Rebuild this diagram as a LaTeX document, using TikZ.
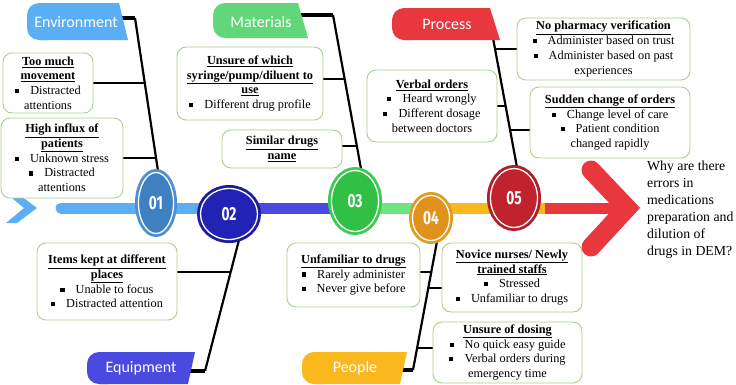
\documentclass[tikz,border=0pt]{standalone}
\usepackage{fontspec}
\setmainfont{Liberation Serif}
\newfontfamily\labfont{Carlito}
\newfontfamily\digfont{Fira Sans}
\usetikzlibrary{shapes.geometric,calc,backgrounds}
\definecolor{cEnv}{HTML}{5AAEF5}
\definecolor{cMat}{HTML}{62D67A}
\definecolor{cMatBar}{HTML}{6EE47E}
\definecolor{cProc}{HTML}{E8383D}
\definecolor{cEqu}{HTML}{4A4AE0}
\definecolor{cPeo}{HTML}{F9B91E}
\definecolor{boxgreen}{HTML}{A9D18E}
\definecolor{nAf}{HTML}{3F80C2}\definecolor{nAb}{HTML}{4E8FD0}
\definecolor{nBf}{HTML}{2222B4}\definecolor{nBb}{HTML}{1C1C9C}
\definecolor{nCf}{HTML}{30C046}\definecolor{nCb}{HTML}{3BCB50}
\definecolor{nDf}{HTML}{E0921C}\definecolor{nDb}{HTML}{E39A22}
\definecolor{nEf}{HTML}{C0222E}\definecolor{nEb}{HTML}{B01E2A}
\newcommand\sq{\rule[0.12em]{0.33em}{0.33em}\hspace{0.9em}}
\newcommand\hd[1]{\underline{\textbf{#1}}}
\newcommand\twigto[3]{\draw[twig] let \p1=#1, \p2=#2, \p3=#3 in (\p1) -- ({\x2+(\y1-\y2)*(\x3-\x2)/(\y3-\y2)},\y1);}
\begin{document}
\begin{tikzpicture}[x=1pt,y=-1pt,
  cbox/.style={draw=boxgreen, line width=0.9pt, rounded corners=9pt, fill=white, align=center,
    font=\fontsize{12.3}{14.7}\selectfont, inner sep=1pt},
  spine/.style={line width=2.2pt, black},
  knee/.style={line width=3.2pt, black},
  twig/.style={line width=1.1pt, black},
  numc/.style 2 args={ellipse, inner sep=0pt, fill=#1, draw=white, line width=1.3pt,
    preaction={draw=#2, line width=7pt}, text=white,
    font=\digfont\bfseries\fontsize{19}{19}\selectfont},
  labtxt/.style={text=white, font=\labfont\fontsize{16}{16}\selectfont, inner sep=0pt},
  bar/.style={line width=11pt}
]
\useasboundingbox (0,0) rectangle (736,384);

% numbered circles
\node[numc={nAf}{nAb}, minimum width=35pt, minimum height=61pt] (c1) at (156,203) {\scalebox{0.72}[1]{01}};
\node[numc={nBf}{nBb}, minimum width=57pt, minimum height=51pt] (c2) at (229,214) {\scalebox{0.72}[1]{02}};
\node[numc={nCf}{nCb}, minimum width=47pt, minimum height=61pt] (c3) at (355,201) {\scalebox{0.72}[1]{03}};
\node[numc={nDf}{nDb}, minimum width=37pt, minimum height=45pt] (c4) at (431,218) {\scalebox{0.72}[1]{04}};
\node[numc={nEf}{nEb}, minimum width=47pt, minimum height=59pt] (c5) at (514,198) {\scalebox{0.72}[1]{05}};

% category labels
\fill[cEnv, rounded corners=12pt] (60,3) -- (27,3) -- (27,40) -- (60,40) -- cycle;
\fill[cEnv] (40,3) -- (119,3) -- (128,40) -- (40,40) -- cycle;
\node[labtxt] (env) at (76,22) {Environment};

\fill[cMat, rounded corners=12pt] (246,3) -- (213,3) -- (213,38) -- (246,38) -- cycle;
\fill[cMat] (226,3) -- (298,3) -- (308,38) -- (226,38) -- cycle;
\node[labtxt] (mat) at (261,21.5) {Materials};

\fill[cProc, rounded corners=12pt] (425,8) -- (392,8) -- (392,40) -- (425,40) -- cycle;
\fill[cProc] (405,8) -- (490,8) -- (500,40) -- (405,40) -- cycle;
\node[labtxt] (proc) at (447,24) {Process};

\fill[cEqu, rounded corners=12pt] (120,352) -- (87,352) -- (87,384) -- (120,384) -- cycle;
\fill[cEqu] (100,352) -- (195,352) -- (188,384) -- (100,384) -- cycle;
\node[labtxt] (equ) at (141,368) {Equipment};

\fill[cPeo, rounded corners=12pt] (335,352) -- (302,352) -- (302,384) -- (335,384) -- cycle;
\fill[cPeo] (315,352) -- (407,352) -- (400,384) -- (315,384) -- cycle;
\node[labtxt] (peo) at (355,368) {People};

% cause boxes
\node[cbox, minimum width=90pt, minimum height=60pt] (too) at (48,83)
  {\hd{Too much}\\ \hd{movement}\\ \sq Distracted\\ attentions};
\node[cbox, minimum width=122pt, minimum height=80pt] (high) at (62,158)
  {\hd{High influx of}\\ \hd{patients}\\ \sq Unknown stress\\ \sq Distracted\\ attentions};
\node[cbox, minimum width=146pt, minimum height=73pt] (unsure) at (250,83.5)
  {\hd{Unsure of which}\\ \hd{syringe/pump/diluent to}\\ \hd{use}\\ \sq Different drug profile};
\node[cbox, minimum width=120pt, minimum height=38pt] (similar) at (282,149)
  {\hd{Similar drugs}\\ \hd{name}};
\node[cbox, minimum width=130pt, minimum height=72pt] (verbal) at (432,106)
  {\hd{Verbal orders}\\ \sq Heard wrongly\\ \sq Different dosage\\ between doctors};
\node[cbox, minimum width=173pt, minimum height=62pt] (nopharm) at (603.5,49)
  {\hd{No pharmacy verification}\\ \sq Administer based on trust\\ \sq Administer based on past\\ experiences};
\node[cbox, minimum width=160pt, minimum height=71pt] (sudden) at (610,122.5)
  {\hd{Sudden change of orders}\\ \sq Change level of care\\ \sq Patient condition\\ changed rapidly};
\node[cbox, minimum width=140pt, minimum height=77pt] (items) at (107,281.5)
  {\hd{Items kept at different}\\ \hd{places}\\ \sq Unable to focus\\ \sq Distracted attention};
\node[cbox, minimum width=133pt, minimum height=64pt] (unfam) at (353.5,275)
  {\hd{Unfamiliar to drugs}\\ \sq Rarely administer\\ \sq Never give before};
\node[cbox, minimum width=140pt, minimum height=69pt] (novice) at (512,277.5)
  {\hd{Novice nurses/ Newly}\\ \hd{trained staffs}\\ \sq Stressed\\ \sq Unfamiliar to drugs};
\node[cbox, minimum width=149pt, minimum height=61pt] (dosing) at (507.5,352.5)
  {\hd{Unsure of dosing}\\ \sq No quick easy guide\\ \sq Verbal orders during\\ emergency time};

% question
\node[anchor=north west, align=left, inner sep=0pt, font=\fontsize{13.8}{17}\selectfont] (q) at (647,161)
  {Why are there\\ errors in\\ medications\\ preparation and\\ dilution of\\ drugs in DEM?};

\begin{pgfonlayer}{background}
  \fill[white] (0,0) rectangle (736,384);
  % start chevron
  \fill[cEnv] (6,193) -- (17,193) -- (37,208) -- (17,223) -- (6,223) -- (24,208) -- cycle;
  % timeline bar
  \draw[bar, cEnv, line cap=round] (61,208) -- (215,208);
  \draw[bar, cEqu] (215,208) -- (335,208);
  \draw[bar, cMatBar] (335,208) -- (420,208);
  \draw[bar, cPeo] (420,208) -- (545,208);
  \draw[bar, cProc] (545,208) -- (628,208);
  \draw[cProc, line width=19pt, line cap=round, line join=miter] (591,170) -- (627,208) -- (591,247);
  % spines
  \coordinate (envK) at (135,18);
  \coordinate (envE) at (c1.86);
  \draw[knee] (115,18) -- (envK);
  \draw[spine] (envK) -- (envE);
  \coordinate (matK) at (333,15);
  \coordinate (matE) at (c3.78);
  \draw[knee] (296,15) -- (matK);
  \draw[spine] (matK) -- (matE);
  \coordinate (procK) at (493,38);
  \coordinate (procE) at (c5.84);
  \draw[spine] (procK) -- (procE);
  \coordinate (equK) at (205,371);
  \coordinate (equE) at (c2.-67);
  \draw[knee] (185,371) -- (equK);
  \draw[spine] (equK) -- (equE);
  \coordinate (peoK) at (413,370);
  \coordinate (peoE) at (c4.-74);
  \draw[knee] (398,370) -- (peoK);
  \draw[spine] (peoK) -- (peoE);
  % twigs
  \twigto{(too.east)}{(envK)}{(envE)}
  \twigto{(high.east)}{(envK)}{(envE)}
  \twigto{([yshift=4.5pt]unsure.east)}{(matK)}{(matE)}
  \twigto{([yshift=3pt]similar.east)}{(matK)}{(matE)}
  \twigto{(verbal.east)}{(procK)}{(procE)}
  \twigto{(nopharm.west)}{(procK)}{(procE)}
  \twigto{([yshift=-7.5pt]sudden.west)}{(procK)}{(procE)}
  \twigto{([yshift=9.5pt]items.east)}{(equK)}{(equE)}
  \twigto{([yshift=3pt]unfam.east)}{(peoK)}{(peoE)}
  \twigto{([yshift=-10.5pt]novice.west)}{(peoK)}{(peoE)}
  \twigto{([yshift=4.5pt]dosing.west)}{(peoK)}{(peoE)}
\end{pgfonlayer}
\end{tikzpicture}
\end{document}
